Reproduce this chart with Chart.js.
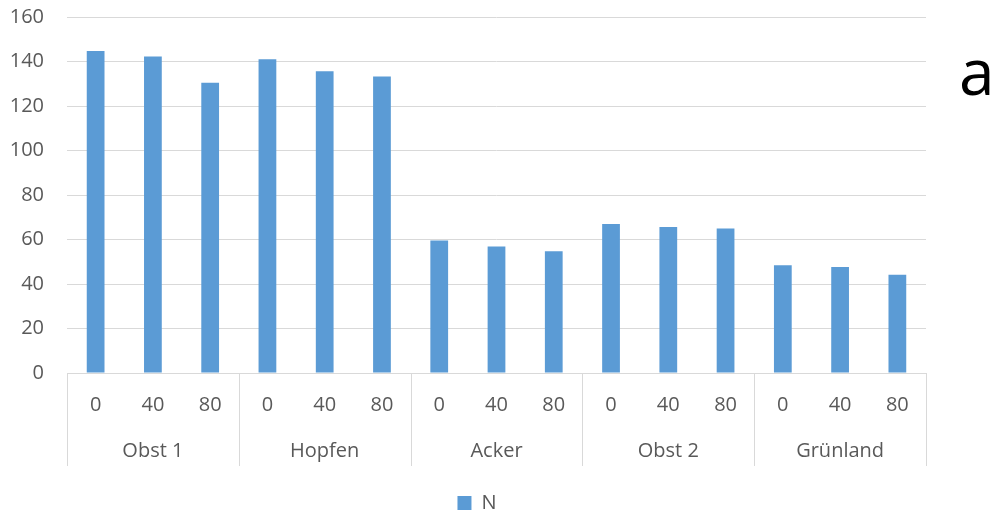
<!DOCTYPE html>
<html>
<head>
<meta charset="utf-8">
<script src="https://cdn.jsdelivr.net/npm/chart.js@4/dist/chart.umd.min.js"></script>
<style>
  html, body { margin: 0; padding: 0; background: #fff; }
  #wrap { position: relative; width: 993px; height: 517px; }
  canvas { display: block; }
</style>
</head>
<body>
<div id="wrap"><canvas id="c" width="993" height="517"></canvas></div>
<script>
const groups = ['Obst 1', 'Hopfen', 'Acker', 'Obst 2', 'Grünland'];
const doses = ['0', '40', '80'];
const seriesName = 'N';
const values = [144.7, 142.2, 130.5, 141.0, 135.6, 133.3, 59.5, 56.8, 54.7, 67.0, 65.6, 65.0, 48.4, 47.6, 44.2];
const yTicks = [0, 20, 40, 60, 80, 100, 120, 140, 160];
const panelLetter = 'a';

const categories = groups.flatMap(() => doses);
const FONT = "'Open Sans', 'Noto Sans', sans-serif";
const TEXT = '#595959';
const GRID = '#d9d9d9';

const groupPlugin = {
  id: 'groupAxis',
  afterDraw(chart) {
    const x = chart.scales.x;
    const ctx = chart.ctx;
    const n = doses.length;
    const step = x.getPixelForValue(1) - x.getPixelForValue(0);
    const top = chart.chartArea.bottom;
    ctx.save();
    ctx.strokeStyle = GRID;
    ctx.lineWidth = 1;
    for (let g = 0; g <= groups.length; g++) {
      const px = Math.round(x.getPixelForValue(g * n) - step / 2) + 0.5;
      ctx.beginPath();
      ctx.moveTo(px, top);
      ctx.lineTo(px, top + 93);
      ctx.stroke();
    }
    ctx.fillStyle = TEXT;
    ctx.font = '20px ' + FONT;
    ctx.textAlign = 'center';
    ctx.textBaseline = 'middle';
    groups.forEach((name, g) => {
      const cx = (x.getPixelForValue(g * n) + x.getPixelForValue(g * n + n - 1)) / 2;
      ctx.fillText(name, cx, top + 78);
    });
    ctx.fillStyle = '#000';
    ctx.font = '64px ' + FONT;
    ctx.textAlign = 'left';
    ctx.textBaseline = 'alphabetic';
    ctx.fillText(panelLetter, 959, 95);
    ctx.restore();
  }
};

new Chart(document.getElementById('c'), {
  type: 'bar',
  data: {
    labels: categories,
    datasets: [{
      label: seriesName,
      data: values,
      backgroundColor: '#5B9BD5',
      borderWidth: 0,
      barPercentage: 0.31,
      categoryPercentage: 1.0
    }]
  },
  options: {
    responsive: false,
    animation: false,
    devicePixelRatio: 1,
    layout: { padding: { top: 17, right: 39, bottom: -6, left: 0 } },
    plugins: {
      legend: {
        display: true,
        position: 'bottom',
        labels: {
          boxWidth: 14,
          boxHeight: 14,
          padding: 3,
          color: TEXT,
          font: { family: FONT, size: 20 }
        }
      },
      tooltip: { enabled: false }
    },
    scales: {
      x: {
        type: 'category',
        grid: { display: false, drawTicks: false, tickLength: 0 },
        border: { display: true, color: GRID, width: 1 },
        ticks: {
          color: TEXT,
          font: { family: FONT, size: 20 },
          padding: 20,
          maxRotation: 0,
          autoSkip: false
        },
        afterFit(s) { s.height = 117; s.paddingLeft = 0; s.paddingRight = 0; }
      },
      y: {
        min: 0,
        max: 160,
        afterBuildTicks(s) { s.ticks = yTicks.map(v => ({ value: v })); },
        grid: { color: GRID, lineWidth: 1, drawTicks: false },
        border: { display: false },
        ticks: {
          color: TEXT,
          font: { family: FONT, size: 20 },
          padding: 23
        },
        afterFit(s) { s.width = 67; s.paddingTop = 0; s.paddingBottom = 0; }
      },
      yR: {
        position: 'right',
        display: true,
        grid: { display: false, drawTicks: false },
        border: { display: false },
        ticks: { display: false },
        afterFit(s) { s.width = 28; s.paddingTop = 0; s.paddingBottom = 0; }
      }
    }
  },
  plugins: [groupPlugin]
});
</script>
</body>
</html>
